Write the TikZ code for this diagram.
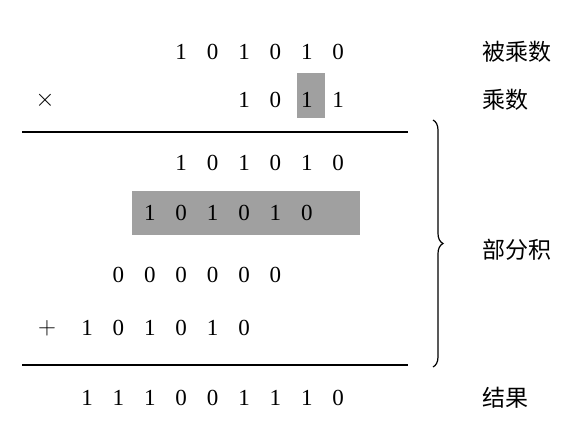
\documentclass[tikz,border=0pt]{standalone}
\usepackage{fontspec}
\newfontfamily\cjk{Noto Sans CJK SC}
\newfontfamily\digitfont{Liberation Serif}
\usetikzlibrary{decorations.pathreplacing}
\definecolor{markgray}{RGB}{160,160,160}
\tikzset{
  digit/.style = {inner sep=0pt, font=\digitfont\fontsize{23}{28}\selectfont},
  rowname/.style = {inner sep=0pt, anchor=west, font=\cjk\fontsize{23}{28}\selectfont},
  rule/.style = {line width=1.6pt}
}
\begin{document}
\begin{tikzpicture}[x=1pt, y=-1pt, thick]
      \useasboundingbox (0,0) rectangle (582,432);
      % highlighted bit of the multiplier and the shifted partial product
      \fill[markgray] (297,73) rectangle (325,118);
      \fill[markgray] (132,191) rectangle (360,235);
      % multiplicand
      \foreach \d [count=\i from 3] in {1,0,1,0,1,0} {
        \node[digit] (a-\i) at (87+31.4*\i,52) {\d};
      }
      % multiplier
      \node[digit] (times) at (45,100) {$\times$};
      \foreach \d [count=\i from 5] in {1,0,1,1} {
        \node[digit] (b-\i) at (87+31.4*\i,100) {\d};
      }
      % partial products
      \foreach \d [count=\i from 3] in {1,0,1,0,1,0} {
        \node[digit] (p1-\i) at (87+31.4*\i,163) {\d};
      }
      \foreach \d [count=\i from 2] in {1,0,1,0,1,0} {
        \node[digit] (p2-\i) at (87+31.4*\i,213) {\d};
      }
      \foreach \d [count=\i from 1] in {0,0,0,0,0,0} {
        \node[digit] (p3-\i) at (87+31.4*\i,275) {\d};
      }
      \node[digit] (plus) at (47,328) {$+$};
      \foreach \d [count=\i from 0] in {1,0,1,0,1,0} {
        \node[digit] (p4-\i) at (87+31.4*\i,328) {\d};
      }
      % result
      \foreach \d [count=\i from 0] in {1,1,1,0,0,1,1,1,0} {
        \node[digit] (r-\i) at (87+31.4*\i,398) {\d};
      }
      % rules
      \coordinate (top-l) at (22,132);
      \coordinate (top-r) at (408,132);
      \coordinate (bot-l) at (22,365);
      \coordinate (bot-r) at (408,365);
      \draw[rule] (top-l) -- (top-r);
      \draw[rule] (bot-l) -- (bot-r);
      % brace over the partial products
      \coordinate (brace-t) at (433,120);
      \coordinate (brace-b) at (433,367);
      \draw[decorate, decoration={brace, amplitude=10pt}, line width=1.2pt] (brace-t) -- (brace-b);
      % row names
      \node[rowname] (n-a) at (482,52) {被乘数};
      \node[rowname] (n-b) at (482,100) {乘数};
      \node[rowname] (n-p) at (482,250) {部分积};
      \node[rowname] (n-r) at (482,398) {结果};
\end{tikzpicture}
\end{document}
